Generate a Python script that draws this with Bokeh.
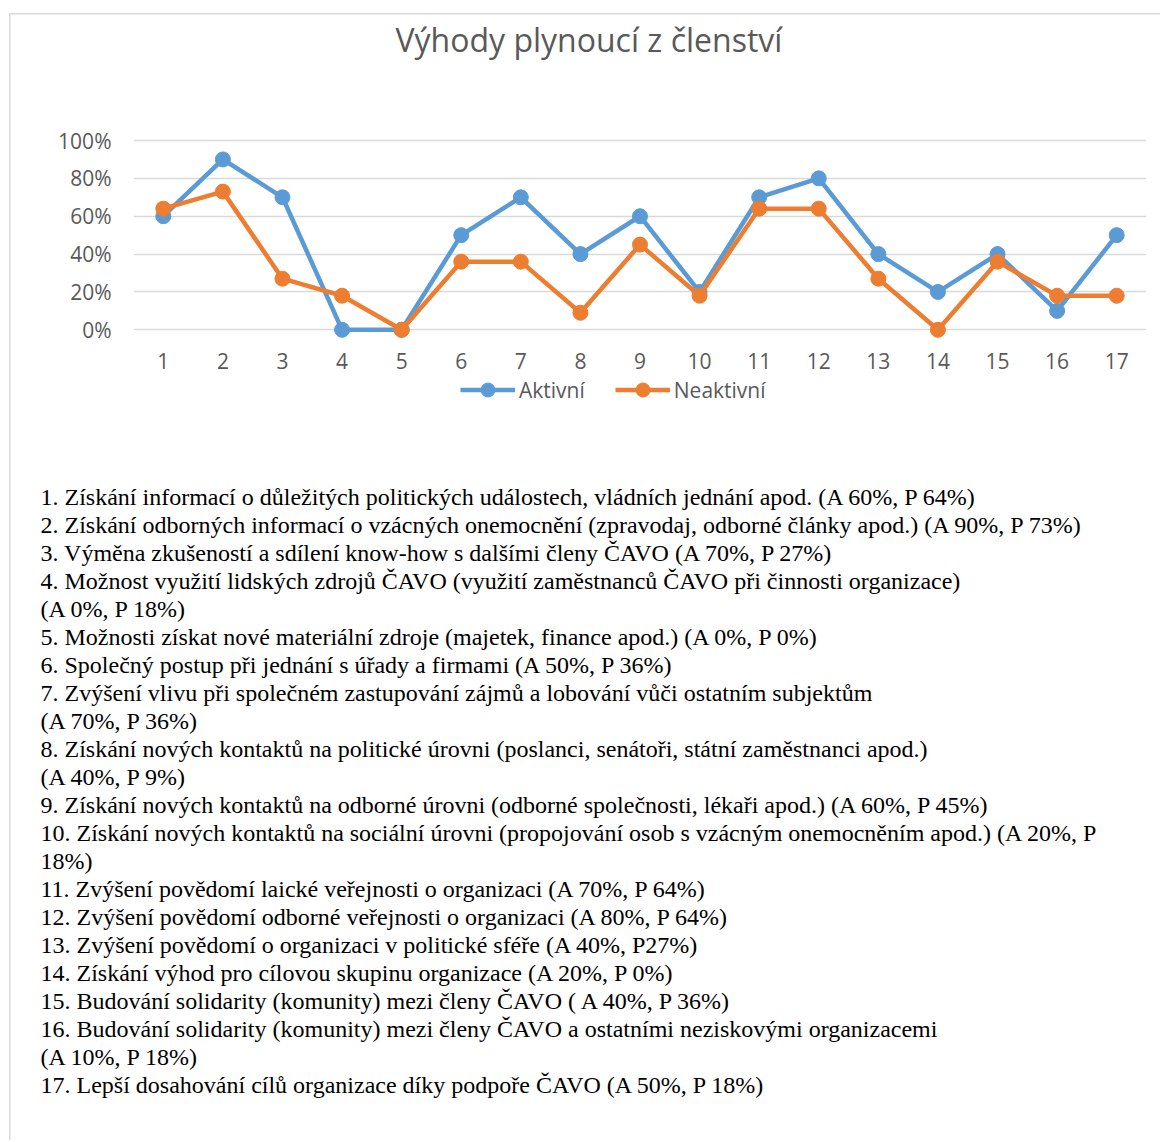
from bokeh.plotting import figure
from bokeh.models import (FixedTicker, NumeralTickFormatter, Legend, LegendItem,
                          Title, ColumnDataSource)
from bokeh.embed import file_html
from bokeh.resources import INLINE

# ---------------- data ----------------
categories = list(range(1, 18))
aktivni = [60, 90, 70, 0, 0, 50, 70, 40, 60, 20, 70, 80, 40, 20, 40, 10, 50]
neaktivni = [64, 73, 27, 18, 0, 36, 36, 9, 45, 18, 64, 64, 27, 0, 36, 18, 18]
y_ticks = [0, 0.2, 0.4, 0.6, 0.8, 1.0]
title_text = "Výhody plynoucí z členství"
series_names = ["Aktivní", "Neaktivní"]

notes = [
    "1. Získání informací o důležitých politických událostech, vládních jednání apod. (A 60%, P 64%)",
    "2. Získání odborných informací o vzácných onemocnění (zpravodaj, odborné články apod.) (A 90%, P 73%)",
    "3. Výměna zkušeností a sdílení know-how s dalšími členy ČAVO (A 70%, P 27%)",
    "4. Možnost využití lidských zdrojů ČAVO (využití zaměstnanců ČAVO při činnosti organizace)",
    "(A 0%, P 18%)",
    "5. Možnosti získat nové materiální zdroje (majetek, finance apod.) (A 0%, P 0%)",
    "6. Společný postup při jednání s úřady a firmami (A 50%, P 36%)",
    "7. Zvýšení vlivu při společném zastupování zájmů a lobování vůči ostatním subjektům",
    "(A 70%, P 36%)",
    "8. Získání nových kontaktů na politické úrovni (poslanci, senátoři, státní zaměstnanci apod.)",
    "(A 40%, P 9%)",
    "9. Získání nových kontaktů na odborné úrovni (odborné společnosti, lékaři apod.) (A 60%, P 45%)",
    "10. Získání nových kontaktů na sociální úrovni (propojování osob s vzácným onemocněním apod.) (A 20%, P",
    "18%)",
    "11. Zvýšení povědomí laické veřejnosti o organizaci (A 70%, P 64%)",
    "12. Zvýšení povědomí odborné veřejnosti o organizaci (A 80%, P 64%)",
    "13. Zvýšení povědomí o organizaci v politické sféře (A 40%, P27%)",
    "14. Získání výhod pro cílovou skupinu organizace (A 20%, P 0%)",
    "15. Budování solidarity (komunity) mezi členy ČAVO ( A 40%, P 36%)",
    "16. Budování solidarity (komunity) mezi členy ČAVO a ostatními neziskovými organizacemi",
    "(A 10%, P 18%)",
    "17. Lepší dosahování cílů organizace díky podpoře ČAVO (A 50%, P 18%)",
]

# ---------------- styles ----------------
BLUE = "#5B9BD5"
ORANGE = "#ED7D31"
GRAY_TXT = "#595959"
GRID = "#D9D9D9"
CHART_FONT = "Open Sans"

W, H = 1160, 1140
FRAME_L, FRAME_R, FRAME_T, FRAME_B = 133, 1146, 63, 484

src = ColumnDataSource(dict(
    x=categories,
    a=[v / 100 for v in aktivni],
    n=[v / 100 for v in neaktivni],
))

p = figure(width=W, height=H, output_backend="svg", toolbar_location=None,
           x_range=(0.5, 17.5), y_range=(-0.8172, 1.4068),
           min_border_left=FRAME_L, min_border_right=W - FRAME_R,
           min_border_top=FRAME_T, min_border_bottom=H - FRAME_B,
           styles={
               "background-image": "linear-gradient(#D9D9D9, #D9D9D9), linear-gradient(#D9D9D9, #D9D9D9)",
               "background-size": "1.5px 100%, 100% 1.5px",
               "background-position": "8.5px 13px, 8.5px 13px",
               "background-repeat": "no-repeat",
           })
p.outline_line_color = None
p.background_fill_alpha = 0
p.border_fill_alpha = 0

# title
p.title = Title(text=title_text, align="left", offset=262, standoff=6,
                text_font=CHART_FONT, text_font_size="32px",
                text_font_style="normal", text_color=GRAY_TXT)

# axes
p.xaxis.ticker = FixedTicker(ticks=categories)
p.xaxis.fixed_location = -0.05
p.yaxis.ticker = FixedTicker(ticks=y_ticks)
p.yaxis.formatter = NumeralTickFormatter(format="0%")
for ax in (p.xaxis, p.yaxis):
    ax.axis_line_color = None
    ax.major_tick_line_color = None
    ax.minor_tick_line_color = None
    ax.major_tick_out = 0
    ax.major_tick_in = 0
    ax.major_label_text_font = CHART_FONT
    ax.major_label_text_font_size = "21px"
    ax.major_label_text_color = GRAY_TXT
p.yaxis.major_label_standoff = 22
p.xaxis.major_label_standoff = 14

p.xgrid.grid_line_color = None
p.ygrid.ticker = FixedTicker(ticks=y_ticks)
p.ygrid.grid_line_color = GRID
p.ygrid.grid_line_width = 1.5

la = p.line("x", "a", source=src, line_color=BLUE, line_width=4.5, line_join="round")
ma = p.scatter("x", "a", source=src, size=15, fill_color=BLUE, line_color=BLUE)
ln = p.line("x", "n", source=src, line_color=ORANGE, line_width=4.5, line_join="round")
mn = p.scatter("x", "n", source=src, size=15, fill_color=ORANGE, line_color=ORANGE)

legend = Legend(items=[LegendItem(label=series_names[0], renderers=[la, ma]),
                       LegendItem(label=series_names[1], renderers=[ln, mn])],
                orientation="horizontal", location=(327, 77),
                label_text_font=CHART_FONT, label_text_font_size="21px",
                label_text_color=GRAY_TXT, glyph_width=55, glyph_height=35,
                label_standoff=4, spacing=30, padding=0, margin=0,
                border_line_color=None, background_fill_alpha=0)
p.add_layout(legend, "center")

# ---------------- text block below the chart ----------------
for txt in notes:
    p.add_layout(Title(text=txt, align="left", offset=40 - FRAME_L,
                       vertical_align="top", standoff=-0.3,
                       text_font="Liberation Serif", text_font_size="24px",
                       text_font_style="normal", text_color="black"), "below")

open("out.html", "w").write(file_html(p, INLINE))
